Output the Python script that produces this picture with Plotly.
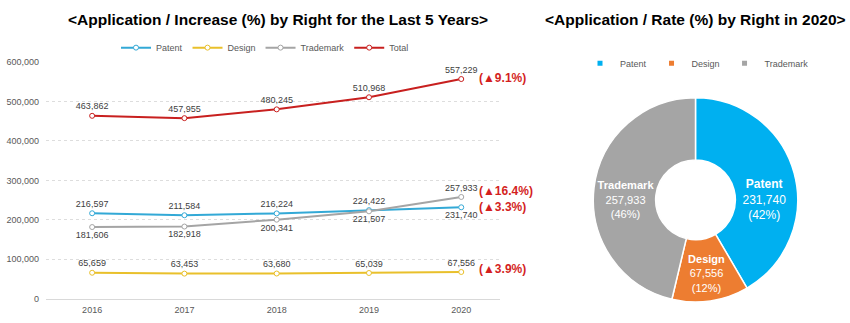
import plotly.graph_objects as go

years = ["2016", "2017", "2018", "2019", "2020"]
patent = [216597, 211584, 216224, 224422, 231740]
design = [65659, 63453, 63680, 65039, 67556]
trademark = [181606, 182918, 200341, 221507, 257933]
total = [463862, 457955, 480245, 510968, 557229]
increase_labels = ["(▲9.1%)", "(▲16.4%)", "(▲3.3%)", "(▲3.9%)"]

pie_labels = ["Patent", "Design", "Trademark"]
pie_values = [231740, 67556, 257933]
pie_colors = ["#00B0F0", "#ED7D31", "#A5A5A5"]

title_left = "<Application / Increase (%) by Right for the Last 5 Years>"
title_right = "<Application / Rate (%) by Right in 2020>"

FONT = "Liberation Sans, Arial, sans-serif"
c_patent = "#33A9D6"
c_design = "#E9C02B"
c_trade = "#A5A5A5"
c_total = "#C8201F"
lbl_color = "#404040"

fig = go.Figure()

def line_trace(name, vals, color, positions):
    return go.Scatter(
        x=years, y=vals, name=name, mode="lines+markers+text",
        line=dict(color=color, width=2),
        marker=dict(symbol="circle", size=5, color="white",
                    line=dict(color=color, width=1)),
        text=[f"{v:,}" for v in vals], textposition=positions,
        textfont=dict(size=9, color=lbl_color, family=FONT),
        legend="legend", cliponaxis=False,
    )

fig.add_trace(line_trace("Patent", patent, c_patent,
                         ["top center"] * 4 + ["bottom center"]))
fig.add_trace(line_trace("Design", design, c_design, ["top center"] * 5))
fig.add_trace(line_trace("Trademark", trademark, c_trade,
                         ["bottom center"] * 4 + ["top center"]))
fig.add_trace(line_trace("Total", total, c_total, ["top center"] * 5))

fig.add_trace(go.Pie(
    labels=pie_labels, values=pie_values, hole=0.39, sort=False,
    direction="clockwise", rotation=0,
    marker=dict(colors=pie_colors, line=dict(color="white", width=1.5)),
    texttemplate="<b>%{label}</b><br>%{value:,}<br>(%{percent:.0%})",
    textposition="inside", insidetextorientation="horizontal",
    insidetextfont=dict(color="white", size=12, family=FONT),
    domain=dict(x=[590 / 850, 801 / 850], y=[0.051, 0.704]),
    showlegend=False,
))

# small square legend keys for the pie
for lab, col in zip(pie_labels, pie_colors):
    fig.add_trace(go.Scatter(
        x=[None], y=[None], mode="markers", name=lab,
        marker=dict(symbol="square", size=5, color=col),
        legend="legend2", hoverinfo="skip",
    ))

# increase annotations beside the last points
last_vals = [total[-1], trademark[-1], patent[-1], design[-1]]
shifts = [1, 6, 0, 3]
for txt, v, s in zip(increase_labels, last_vals, shifts):
    fig.add_annotation(x=4, y=v, xref="x", yref="y", text=f"<b>{txt}</b>",
                       showarrow=False, xanchor="left", xshift=16, yshift=s,
                       font=dict(size=12, color="#D41F1E", family=FONT))

def esc(s):
    return s.replace("<", "&lt;").replace(">", "&gt;")

fig.add_annotation(x=278 / 850, y=1 - 15 / 323, xref="paper", yref="paper",
                   text=f"<b>{esc(title_left)}</b>",
                   showarrow=False, xanchor="center", yanchor="middle",
                   font=dict(size=15.5, color="#000000", family=FONT))
fig.add_annotation(x=695 / 850, y=1 - 15 / 323, xref="paper", yref="paper",
                   text=f"<b>{esc(title_right)}</b>",
                   showarrow=False, xanchor="center", yanchor="middle",
                   font=dict(size=15.5, color="#000000", family=FONT))

fig.update_layout(
    width=850, height=323, margin=dict(l=0, r=0, t=0, b=0),
    paper_bgcolor="white", plot_bgcolor="white",
    font=dict(family=FONT, size=9, color="#595959"),
    xaxis=dict(domain=[46 / 850, 500 / 850], type="category",
               range=[-0.5, 4.42], showgrid=False, showline=True,
               linecolor="#D9D9D9", linewidth=1, ticks="",
               ticklabelstandoff=3,
               tickfont=dict(size=9, color="#595959")),
    yaxis=dict(domain=[20 / 323, 264 / 323], range=[0, 600000],
               tickvals=[0, 100000, 200000, 300000, 400000, 500000, 600000],
               tickformat=",", showgrid=True, gridcolor="#DDDDDD",
               griddash="dot", zeroline=False, showline=False,
               ticks="", ticklabelstandoff=6,
               tickfont=dict(size=9, color="#595959")),
    legend=dict(orientation="h", x=265 / 850, y=1 - 44 / 323,
                xanchor="center", yanchor="middle",
                font=dict(size=9, color="#595959"), itemwidth=30,
                bgcolor="rgba(0,0,0,0)", tracegroupgap=0),
    legend2=dict(orientation="h", x=697 / 850, y=1 - 60 / 323,
                 xanchor="center", yanchor="middle",
                 font=dict(size=9, color="#595959"), itemwidth=30,
                 itemsizing="trace", bgcolor="rgba(0,0,0,0)"),
    showlegend=True,
)

fig.write_html("out.html")
